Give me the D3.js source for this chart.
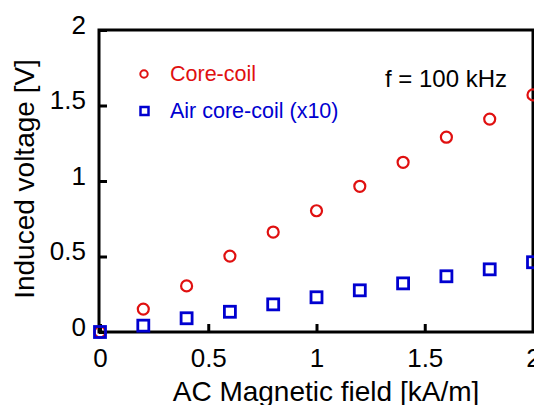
<!DOCTYPE html>
<html>
<head>
<meta charset="UTF-8">
<title></title>
<script src="https://d3js.org/d3.v7.min.js"></script>
<style>
  body { margin: 0; background: #fff; }
  text { font-family: "Liberation Sans", Arial, sans-serif; }
</style>
</head>
<body>
<div id="my_dataviz"></div>
<script>
// AC magnetic field [kA/m]
var field = [0, 0.2, 0.4, 0.6, 0.8, 1.0, 1.2, 1.4, 1.6, 1.8, 2.0];
// induced voltage [V]
var coreCoil = [0, 0.152, 0.305, 0.503, 0.662, 0.803, 0.965, 1.124, 1.29, 1.41, 1.57];
var airCoil = [0, 0.042, 0.091, 0.134, 0.183, 0.23, 0.276, 0.322, 0.369, 0.415, 0.462];
var xTicks = [0, 0.5, 1, 1.5, 2];
var yTicks = [0, 0.5, 1, 1.5, 2];

var W = 534, H = 405;
var margin = {top: 30, right: 1, bottom: 73, left: 99};
var width = W - margin.left - margin.right,
    height = H - margin.top - margin.bottom;

var svg = d3.select("#my_dataviz")
  .append("svg")
  .attr("width", W)
  .attr("height", H);

var g = svg.append("g")
  .attr("transform", "translate(" + margin.left + "," + margin.top + ")");

var x = d3.scaleLinear().domain([0, 2]).range([1, width]);
var y = d3.scaleLinear().domain([0, 2]).range([height, 0]);

// axes with inward ticks
var xAxis = g.append("g")
  .attr("transform", "translate(0," + height + ")")
  .call(d3.axisBottom(x).tickValues(xTicks).tickSizeInner(-8).tickSizeOuter(0).tickPadding(17).tickFormat(d3.format("")));
var yAxis = g.append("g")
  .call(d3.axisLeft(y).tickValues(yTicks).tickSizeInner(-8).tickSizeOuter(0).tickPadding(13).tickFormat(d3.format("")));

[xAxis, yAxis].forEach(function(a) {
  a.select(".domain").remove();
  a.selectAll(".tick line").attr("stroke", "#000").attr("stroke-width", 3);
  a.selectAll(".tick text").attr("fill", "#000").style("font-size", "26px")
    .style("font-family", "'Liberation Sans', Arial, sans-serif");
});
yAxis.selectAll(".tick text").attr("dy", "0.12em");

// frame
g.append("rect")
  .attr("x", 0).attr("y", 0)
  .attr("width", width).attr("height", height)
  .attr("fill", "none").attr("stroke", "#000").attr("stroke-width", 3);

// core-coil: red circles
g.selectAll(".core")
  .data(field.map(function(f, i) { return [f, coreCoil[i]]; }))
  .enter().append("circle")
  .attr("cx", function(d) { return x(d[0]); })
  .attr("cy", function(d) { return y(d[1]); })
  .attr("r", 5.5)
  .attr("fill", "none")
  .attr("stroke", "#e01010")
  .attr("stroke-width", 2.2);

// air core-coil (x10): blue squares
g.selectAll(".air")
  .data(field.map(function(f, i) { return [f, airCoil[i]]; }))
  .enter().append("rect")
  .attr("x", function(d) { return x(d[0]) - 5.5; })
  .attr("y", function(d) { return y(d[1]) - 5.5; })
  .attr("width", 11).attr("height", 11)
  .attr("fill", "none")
  .attr("stroke", "#0000d0")
  .attr("stroke-width", 2.8);

// legend
svg.append("circle").attr("cx", 144).attr("cy", 74).attr("r", 3.7)
  .attr("fill", "none").attr("stroke", "#e01010").attr("stroke-width", 2);
svg.append("text").attr("x", 170).attr("y", 81).attr("fill", "#e01010")
  .style("font-size", "21.5px").text("Core-coil");
svg.append("rect").attr("x", 140.5).attr("y", 107).attr("width", 8).attr("height", 8)
  .attr("fill", "none").attr("stroke", "#0000d0").attr("stroke-width", 2.5);
svg.append("text").attr("x", 170).attr("y", 118).attr("fill", "#0000d0")
  .style("font-size", "21.5px").text("Air core-coil (x10)");

svg.append("text").attr("x", 507).attr("y", 87).attr("text-anchor", "end")
  .attr("fill", "#000").style("font-size", "24px").text("f = 100 kHz");

// axis titles
svg.append("text")
  .attr("x", 326).attr("y", 401)
  .attr("text-anchor", "middle").attr("fill", "#000")
  .style("font-size", "28px").text("AC Magnetic field [kA/m]");
svg.append("text")
  .attr("transform", "translate(34,179) rotate(-90)")
  .attr("text-anchor", "middle").attr("fill", "#000")
  .style("font-size", "28px").text("Induced voltage [V]");
</script>
</body>
</html>
